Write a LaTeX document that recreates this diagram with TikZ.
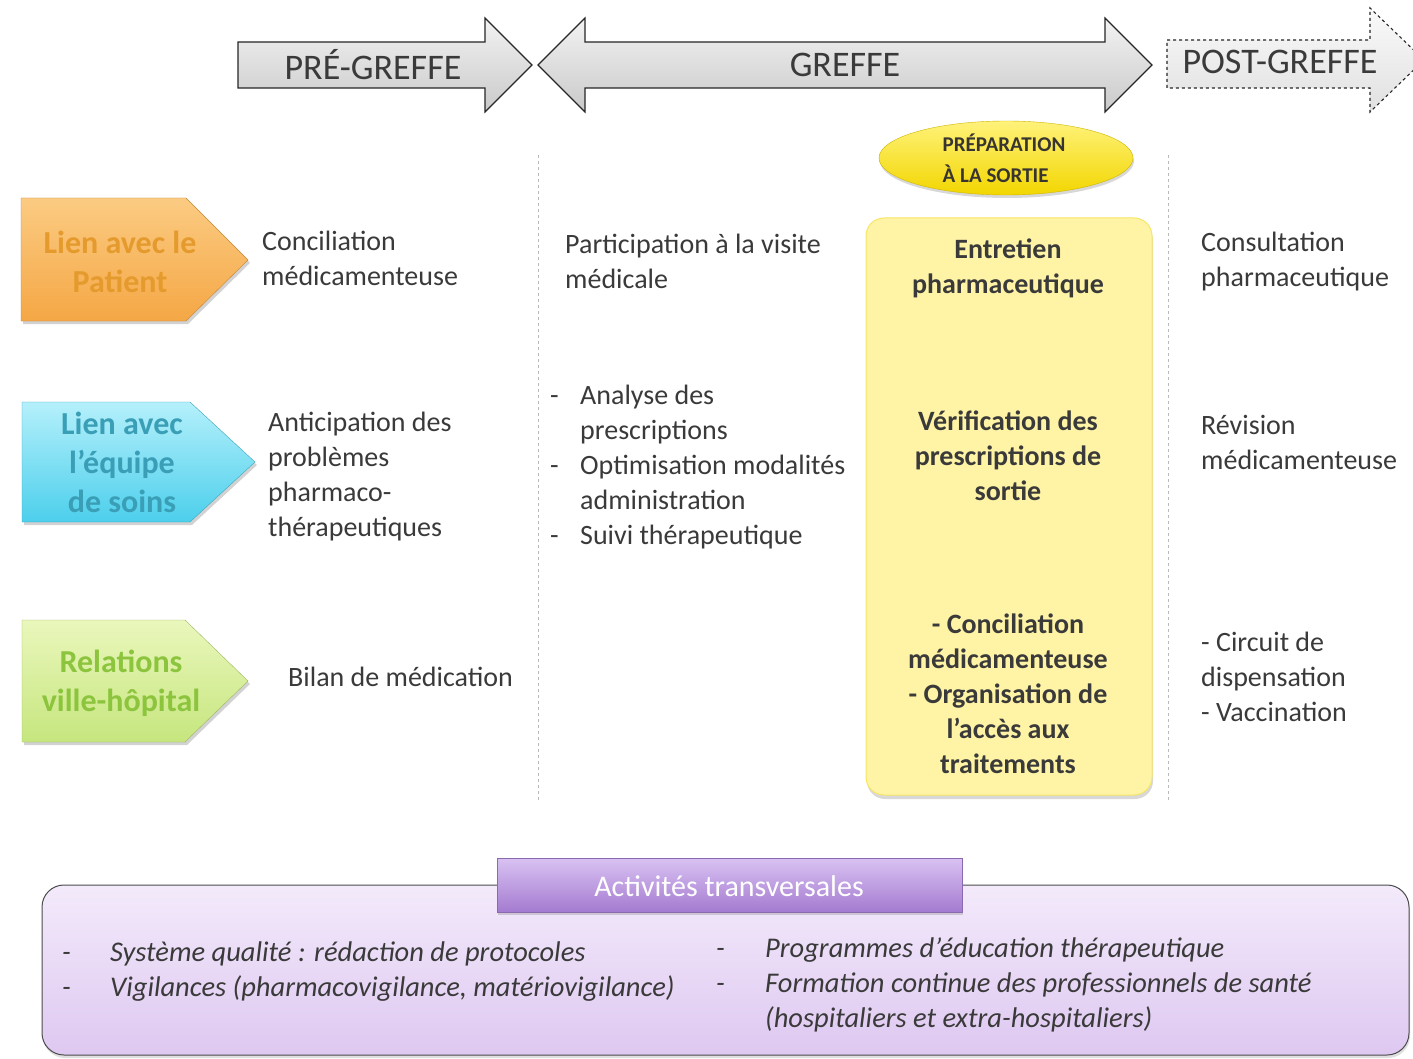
\documentclass[tikz,border=0pt]{standalone}
\usepackage{fontspec}
\setmainfont{Carlito}
\usetikzlibrary{shadows,shapes.geometric}
\definecolor{txt}{HTML}{3A3A3A}
\definecolor{orTop}{HTML}{FBCB82}
\definecolor{orBot}{HTML}{F5A745}
\definecolor{orTxt}{HTML}{E49A2C}
\definecolor{cyTop}{HTML}{B5F0FB}
\definecolor{cyBot}{HTML}{4CCFEC}
\definecolor{cyTxt}{HTML}{3A9FB6}
\definecolor{grTop}{HTML}{EAF7BC}
\definecolor{grBot}{HTML}{C6E67E}
\definecolor{grTxt}{HTML}{8CC43E}
\definecolor{ylBox}{HTML}{FFF4A6}
\definecolor{ylTop}{HTML}{FFF27A}
\definecolor{ylBot}{HTML}{F2D600}
\definecolor{lvTop}{HTML}{F3EAFB}
\definecolor{lvBot}{HTML}{DEC8F1}
\definecolor{puTop}{HTML}{D9C2F2}
\definecolor{puBot}{HTML}{A47BD0}
\tikzset{
  phase/.style={top color=gray!10, bottom color=gray!42, draw=gray!30!black, line width=1.1pt},
  body/.style={text=txt, inner sep=0pt, font=\fontsize{28}{35}\selectfont},
  bodyl/.style={body, align=left, anchor=west},
  bodyc/.style={body, align=center, anchor=center, font=\bfseries\fontsize{28}{35}\selectfont},
  labl/.style={inner sep=0pt, align=center, font=\bfseries\fontsize{32}{39}\selectfont},
  pent/.style={drop shadow={opacity=0.35, shadow xshift=2pt, shadow yshift=-3pt}},
  phasetxt/.style={text=txt, inner sep=0pt, font=\fontsize{36}{40}\selectfont},
  sep/.style={gray!55, dashed, line width=1pt},
  itl/.style={text=txt, inner sep=0pt, anchor=west, align=left, font=\itshape\fontsize{28.5}{35}\selectfont}
}
\begin{document}
\begin{tikzpicture}[x=1pt,y=-1pt]
\useasboundingbox (0,0) rectangle (1413,1059);
\fill[white] (0,0) rectangle (1413,1059);

% phase arrows
\draw[phase] (238,42) -- (485,42) -- (485,18) -- (532,65) -- (485,112) -- (485,88) -- (238,88) -- cycle;
\draw[phase] (538,65) -- (585,18) -- (585,42) -- (1105,42) -- (1105,18) -- (1152,65) -- (1105,112) -- (1105,88) -- (585,88) -- (585,112) -- cycle;
\draw[phase, dashed, top color=gray!4, bottom color=gray!24] (1167,40) -- (1370,40) -- (1370,8) -- (1424,60) -- (1370,112) -- (1370,88) -- (1167,88) -- cycle;
\node[phasetxt] (pre) at (373,65) {PRÉ-GREFFE};
\node[phasetxt] (gre) at (845,65) {GREFFE};
\node[phasetxt] (post) at (1280,62) {POST-GREFFE};

% separators
\coordinate (s1a) at (538,155); \coordinate (s1b) at (538,802);
\coordinate (s2a) at (1168,155); \coordinate (s2b) at (1168,802);
\draw[sep] (s1a) -- (s1b);
\draw[sep] (s2a) -- (s2b);

% left pentagons
\draw[pent, top color=orTop, bottom color=orBot, draw=orBot!80!black, line width=0.4pt] (21,198) -- (186,198) -- (248,260) -- (186,321) -- (21,321) -- cycle;
\draw[pent, top color=cyTop, bottom color=cyBot, draw=cyBot!80!black, line width=0.4pt] (22,402) -- (190,402) -- (255,462) -- (190,522) -- (22,522) -- cycle;
\draw[pent, top color=grTop, bottom color=grBot, draw=grBot!80!black, line width=0.4pt] (22,620) -- (185,620) -- (248,681) -- (185,742) -- (22,742) -- cycle;
\node[labl, text=orTxt] (l1) at (120,262) {Lien avec le\\Patient};
\node[labl, text=cyTxt] (l2) at (122,462) {Lien avec\\l’équipe\\de soins};
\node[labl, text=grTxt] (l3) at (121,683) {Relations\\ville-hôpital};

% pre-greffe column
\node[bodyl] (c1) at (262,258) {Conciliation\\médicamenteuse};
\node[bodyl] (c2) at (268,477) {Anticipation des\\problèmes\\pharmaco-\\thérapeutiques};
\node[bodyl] (c3) at (288,677) {Bilan de médication};

% greffe column
\node[bodyl] (g1) at (565,261) {Participation à la visite\\médicale};
\node[bodyl] (g2) at (550,467) {\begin{tabular}{@{}l@{}l@{}}\makebox[30pt][l]{-} & Analyse des\\ & prescriptions\\ - & Optimisation modalités\\ & administration\\ - & Suivi thérapeutique\end{tabular}};

% yellow box
\draw[fill=ylBox, draw=ylBot!60!white, line width=1pt, rounded corners=18pt, drop shadow={opacity=0.3, shadow xshift=1pt, shadow yshift=-4pt}] (866,218) rectangle (1152,795);
\node[bodyc] (y1) at (1008,268) {Entretien\\pharmaceutique};
\node[bodyc] (y2) at (1008,456) {Vérification des\\prescriptions de\\sortie};
\node[bodyc] (y3) at (1008,694) {- Conciliation\\médicamenteuse\\- Organisation de\\l’accès aux\\traitements};

% ellipse
\node[ellipse, minimum width=254pt, minimum height=74pt, inner sep=0pt, top color=ylTop, bottom color=ylBot, draw=ylBot!85!black, line width=0.4pt, drop shadow={opacity=0.3, shadow xshift=1pt, shadow yshift=-3pt}] (prep) at (1006,158) {};
\node[inner sep=0pt, align=left, text=black!75!yellow!40!black, font=\bfseries\fontsize{21}{31}\selectfont] (preptxt) at (1004,158) {PRÉPARATION\\À LA SORTIE};

% post-greffe column
\node[bodyl] (p1) at (1201,262) {Consultation\\pharmaceutique};
\node[bodyl] (p2) at (1201,442) {Révision\\médicamenteuse};
\node[bodyl] (p3) at (1201,677) {- Circuit de\\dispensation\\- Vaccination};

% bottom panel
\draw[top color=lvTop, bottom color=lvBot, draw=gray!60!black, line width=1pt, rounded corners=22pt, drop shadow={opacity=0.25, shadow xshift=1pt, shadow yshift=-3pt}] (42,885) rectangle (1409,1055);
\node[minimum width=465pt, minimum height=54pt, inner sep=0pt, top color=puTop, bottom color=puBot, draw=puBot!85!black, line width=0.8pt, drop shadow={opacity=0.3, shadow xshift=1pt, shadow yshift=-3pt}] (tbox) at (729.5,885) {};
\node[inner sep=0pt, text=white, font=\fontsize{30}{34}\selectfont] (ttxt) at (729,886) {Activités transversales};
\node[itl] (b1) at (62,972) {\begin{tabular}{@{}l@{}l@{}}\makebox[48pt][l]{-} & Système qualité : rédaction de protocoles\\ - & Vigilances (pharmacovigilance, matériovigilance)\end{tabular}};
\node[itl] (b2) at (716,985) {\begin{tabular}{@{}l@{}l@{}}\makebox[49pt][l]{-} & Programmes d’éducation thérapeutique\\ - & Formation continue des professionnels de santé\\ & (hospitaliers et extra-hospitaliers)\end{tabular}};
\end{tikzpicture}
\end{document}
